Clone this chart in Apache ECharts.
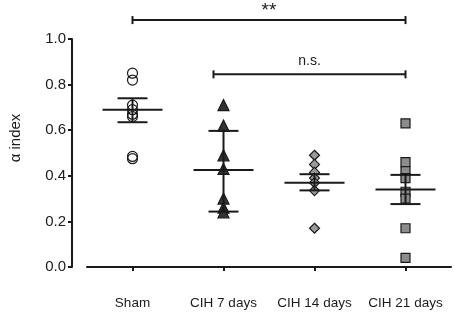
<!DOCTYPE html>
<html>
<head>
<meta charset="utf-8">
<script src="https://cdn.jsdelivr.net/npm/echarts@6/dist/echarts.min.js"></script>
<style>
html, body { margin: 0; padding: 0; background: #fff; }
#chart { width: 454px; height: 315px; }
</style>
</head>
<body>
<div id="chart"></div>
<script>
const categories = ["Sham", "CIH 7 days", "CIH 14 days", "CIH 21 days"]
const yTicks = [0, 0.2, 0.4, 0.6, 0.8, 1.0]

// individual points per group
const sham = [0.85, 0.82, 0.71, 0.69, 0.67, 0.66, 0.485, 0.475]
const cih7 = [0.71, 0.62, 0.49, 0.43, 0.30, 0.26, 0.24]
const cih14 = [0.49, 0.45, 0.415, 0.39, 0.37, 0.335, 0.17]
const cih21 = [0.63, 0.46, 0.42, 0.39, 0.33, 0.30, 0.17, 0.04]

// mean and error bars
const means = [0.69, 0.425, 0.37, 0.34]
const errLow = [0.635, 0.243, 0.336, 0.276]
const errHigh = [0.74, 0.597, 0.407, 0.404]

// significance brackets (from / to in category units)
const brackets = [
	{ from: 0, to: 3, y: 1.083, label: "**", size: 19, gap: 0 },
	{ from: 0.89, to: 3, y: 0.845, label: "n.s.", size: 14, gap: 6 }
]

const font = "'Liberation Sans', Arial, sans-serif"
const ink = "#1a1a1a"

const chart = echarts.init(document.getElementById("chart"))

const pts = (arr, i) => arr.map(v => [i, v])

const scatter = (arr, i, symbol, size, fill) => ({
	type: "scatter",
	data: pts(arr, i),
	symbol: symbol,
	symbolSize: size,
	silent: true,
	itemStyle: {
		color: fill,
		borderColor: ink,
		borderWidth: 1.2,
		opacity: 1
	},
	z: 2
})

const option = {
	backgroundColor: "#fff",
	animation: false,
	grid: { left: 85, right: 3, top: 39, bottom: 48 },
	xAxis: {
		type: "category",
		data: categories,
		offset: 14,
		axisLine: { show: true, lineStyle: { color: ink, width: 2 } },
		axisTick: { show: true, alignWithLabel: true, length: 4, lineStyle: { color: ink, width: 2 } },
		axisLabel: { color: ink, fontSize: 13.5, fontFamily: font, margin: 15, interval: 0 },
		splitLine: { show: false }
	},
	yAxis: {
		type: "value",
		min: yTicks[0],
		max: yTicks[yTicks.length - 1],
		interval: 0.2,
		offset: 15,
		name: "α index",
		nameLocation: "middle",
		nameRotate: 90,
		nameGap: 49,
		nameTextStyle: { color: ink, fontSize: 15, fontFamily: font, padding: [0, 0, 0, 30] },
		axisLine: { show: true, lineStyle: { color: ink, width: 2 } },
		axisTick: { show: true, length: 4, lineStyle: { color: ink, width: 2 } },
		axisLabel: { color: ink, fontSize: 15, fontFamily: font, margin: 6, formatter: v => v.toFixed(1) },
		splitLine: { show: false }
	},
	series: [
		scatter(sham, 0, "circle", 10, "rgba(0,0,0,0)"),
		scatter(cih7, 1, "triangle", 11, "#333"),
		scatter(cih14, 2, "diamond", 10, "#9a9a9a"),
		scatter(cih21, 3, "rect", 9, "#8c8c8c"),
		{
			type: "custom",
			silent: true,
			z: 3,
			data: means.map((m, i) => [i, m, errLow[i], errHigh[i]]),
			renderItem: (params, api) => {
				const c = api.coord([api.value(0), api.value(1)])
				const lo = api.coord([api.value(0), api.value(2)])
				const hi = api.coord([api.value(0), api.value(3)])
				const st = { stroke: ink, lineWidth: 2 }
				return {
					type: "group",
					children: [
						{ type: "line", shape: { x1: c[0] - 30, y1: c[1], x2: c[0] + 30, y2: c[1] }, style: st },
						{ type: "line", shape: { x1: c[0], y1: lo[1], x2: c[0], y2: hi[1] }, style: st },
						{ type: "line", shape: { x1: c[0] - 15, y1: lo[1], x2: c[0] + 15, y2: lo[1] }, style: st },
						{ type: "line", shape: { x1: c[0] - 15, y1: hi[1], x2: c[0] + 15, y2: hi[1] }, style: st }
					]
				}
			}
		},
		{
			type: "custom",
			silent: true,
			clip: false,
			z: 3,
			data: brackets.map(b => [b.to, b.y]),
			renderItem: (params, api) => {
				const b = brackets[params.dataIndex]
				const band = api.size([1, 0])[0]
				const px = v => api.coord([Math.floor(v), b.y])[0] + (v - Math.floor(v)) * band
				const y = api.coord([0, b.y])[1]
				const x1 = px(b.from)
				const x2 = px(b.to)
				const st = { stroke: ink, lineWidth: 2 }
				return {
					type: "group",
					children: [
						{ type: "line", shape: { x1: x1, y1: y, x2: x2, y2: y }, style: st },
						{ type: "line", shape: { x1: x1, y1: y - 4, x2: x1, y2: y + 4 }, style: st },
						{ type: "line", shape: { x1: x2, y1: y - 4, x2: x2, y2: y + 4 }, style: st },
						{
							type: "text",
							style: {
								text: b.label,
								x: (x1 + x2) / 2,
								y: y - b.gap,
								textAlign: "center",
								textVerticalAlign: "bottom",
								fontSize: b.size,
								fontFamily: font,
								fill: ink
							}
						}
					]
				}
			}
		}
	]
}

chart.setOption(option)
</script>
</body>
</html>
